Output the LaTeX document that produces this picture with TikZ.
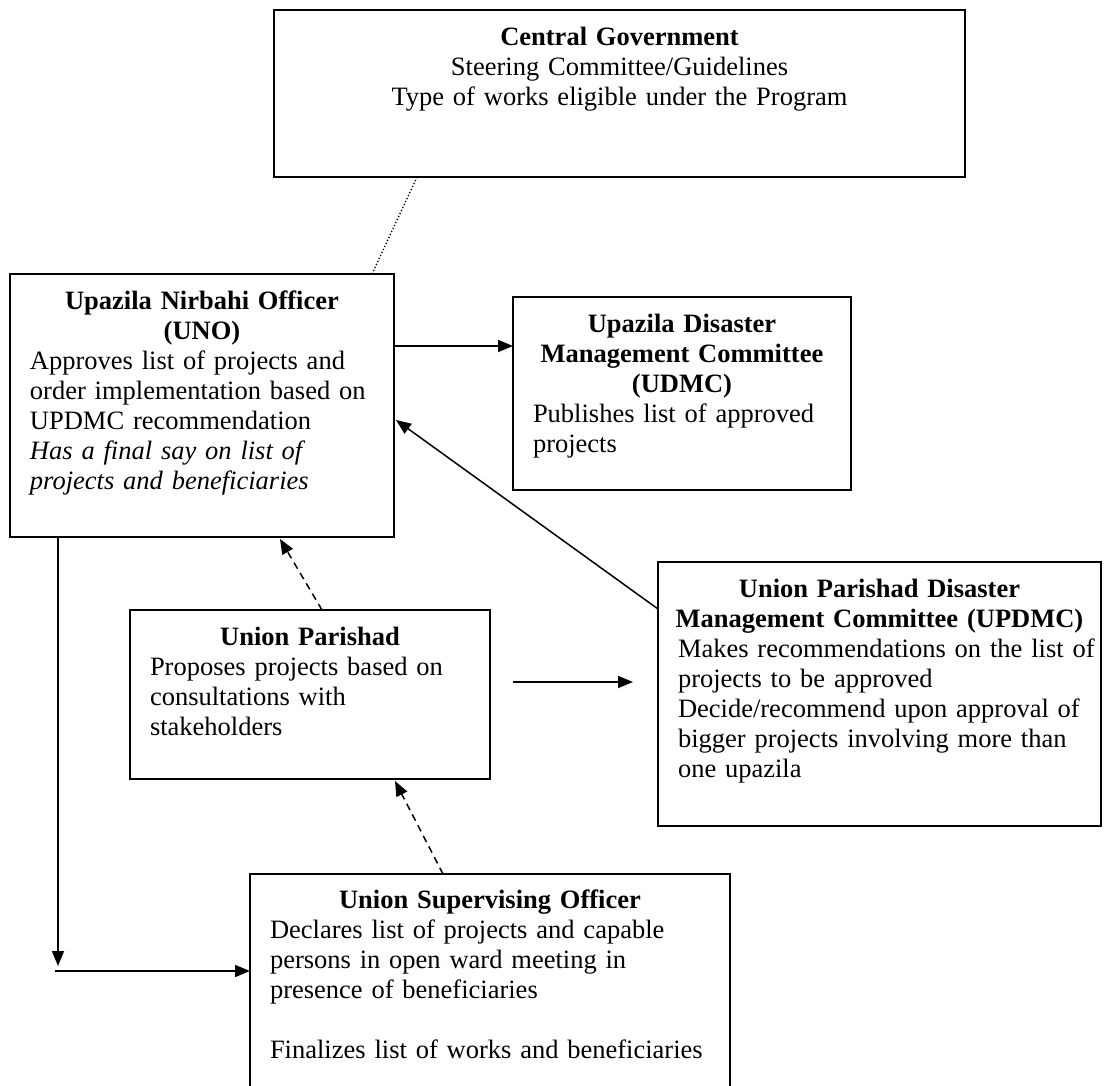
\documentclass[tikz,border=0pt]{standalone}
\usepackage{fontspec}
\setmainfont{Liberation Serif}
\usetikzlibrary{arrows.meta,calc}
\newcommand{\hdl}[1]{\makebox[\linewidth][c]{\bfseries #1}}
\newcommand{\bdl}[1]{\makebox[\linewidth][l]{#1}}
\newcommand{\cnl}[1]{\makebox[\linewidth][c]{#1}}
\begin{document}
\begin{tikzpicture}[x=1pt,y=-1pt,
  box/.style={draw,line width=2pt,inner sep=0pt,outer sep=0pt,anchor=north west},
  txt/.style={inner sep=0pt,outer sep=0pt,anchor=base west,align=left,font=\fontsize{26.5pt}{30pt}\selectfont},
  conn/.style={line width=1.5pt},
  arr/.style={conn,-{Triangle[length=15pt,width=12pt]}},
  dsh/.style={arr,dash pattern=on 7pt off 5pt},
  dot/.style={line width=1.3pt,dash pattern=on 1.3pt off 2pt}
]
\fill[white] (0,0) rectangle (1104,1086);
\useasboundingbox (0,0) rectangle (1104,1086);

% boxes
\node[box,minimum width=691pt,minimum height=167pt] (cg) at (274,10) {};
\node[box,minimum width=384pt,minimum height=263pt] (uno) at (10,274) {};
\node[box,minimum width=338pt,minimum height=193pt] (udmc) at (513,297) {};
\node[box,minimum width=443pt,minimum height=264pt] (updmc) at (658,562) {};
\node[box,minimum width=360pt,minimum height=169pt] (up) at (130,610) {};
\node[box,minimum width=480pt,minimum height=222pt] (uso) at (250,874) {};

% texts
\node[txt,text width=651pt] (cgt) at ($(cg.north west)+(20,36)$)
  {\hdl{Central Government}\\\cnl{Steering Committee/Guidelines}\\\cnl{Type of works eligible under the Program}};
\node[txt,text width=344pt] (unot) at ($(uno.north west)+(20,36)$)
  {\hdl{Upazila Nirbahi Officer}\\\hdl{(UNO)}\\
   \bdl{Approves list of projects and}\\\bdl{order implementation based on}\\\bdl{UPDMC recommendation}\\
   \bdl{\itshape Has a final say on list of}\\\bdl{\itshape projects and beneficiaries}};
\node[txt,text width=298pt] (udmct) at ($(udmc.north west)+(20,36)$)
  {\hdl{Upazila Disaster}\\\hdl{Management Committee}\\\hdl{(UDMC)}\\
   \bdl{Publishes list of approved}\\\bdl{projects}};
\node[txt,text width=403pt] (updmct) at ($(updmc.north west)+(20,35)$)
  {\hdl{Union Parishad Disaster}\\\hdl{Management Committee (UPDMC)}\\
   \bdl{Makes recommendations on the list of}\\\bdl{projects to be approved}\\\bdl{Decide/recommend upon approval of}\\\bdl{bigger projects involving more than}\\\bdl{one upazila}};
\node[txt,text width=320pt] (upt) at ($(up.north west)+(20,35)$)
  {\hdl{Union Parishad}\\
   \bdl{Proposes projects based on}\\\bdl{consultations with}\\\bdl{stakeholders}};
\node[txt,text width=440pt] (usot) at ($(uso.north west)+(20,34)$)
  {\hdl{Union Supervising Officer}\\
   \bdl{Declares list of projects and capable}\\\bdl{persons in open ward meeting in}\\\bdl{presence of beneficiaries}\\[30pt]
   \bdl{Finalizes list of works and beneficiaries}};

% connectors
\draw[dot] ($(cg.south west)+(143,0)$) -- ($(uno.north west)+(362,0)$);
\coordinate (a1) at ($(uno.north east)+(0,72)$);
\draw[arr] (a1) -- (a1 -| udmc.west);
\draw[arr] ($(updmc.north west)+(0,47)$) -- ($(uno.north east)+(2,146)$);
\draw[dsh] ($(up.north west)+(192,0)$) -- ($(uno.south west)+(270,2)$);
\coordinate (f1) at ($(up.north east)+(23,72)$);
\coordinate (f2) at ($(up.north east)+(143,72)$);
\draw[arr] (f1) -- (f2);
\draw[dsh] ($(uso.north west)+(193,0)$) -- ($(up.south west)+(265,2)$);
\coordinate (dn) at ($(uno.south west)+(48,429)$);
\draw[arr] ($(uno.south west)+(48,0)$) -- (dn);
\coordinate (hs) at ($(uso.north west)+(-195,97)$);
\draw[arr] (hs) -- (hs -| uso.west);
\end{tikzpicture}
\end{document}
